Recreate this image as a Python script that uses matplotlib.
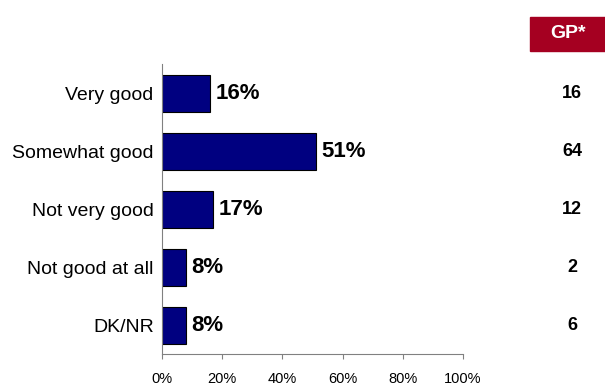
import matplotlib.pyplot as plt
import matplotlib.transforms as mtransforms
from matplotlib.patches import Rectangle

categories = ["Very good", "Somewhat good", "Not very good", "Not good at all", "DK/NR"]
values = [16, 51, 17, 8, 8]
gp_values = [16, 64, 12, 2, 6]
ticks = [0, 20, 40, 60, 80, 100]

plt.rcParams["font.family"] = ["Liberation Sans", "DejaVu Sans"]

fig = plt.figure(figsize=(6.05, 3.84), dpi=100)
ax = fig.add_axes([0.2678, 0.078, 0.4975, 0.755])

y = list(range(len(categories)))
ax.barh(y, values, height=0.64, color="#000080", edgecolor="black", linewidth=0.8)
for yi, v in zip(y, values):
    ax.text(v + 1.8, yi, f"{v}%", va="center", ha="left", fontsize=16, fontweight="bold")

ax.set_ylim(len(categories) - 0.5, -0.5)
ax.set_xlim(0, 100)
ax.set_yticks(y)
ax.set_yticklabels(categories, fontsize=14)
ax.tick_params(axis="y", length=0, pad=6)
ax.set_xticks(ticks)
ax.set_xticklabels([f"{t}%" for t in ticks], fontsize=10.5)
ax.tick_params(axis="x", direction="out", length=3.6, color="#808080", pad=9)
for s in ["top", "right"]:
    ax.spines[s].set_visible(False)
ax.spines["left"].set_color("#808080")
ax.spines["bottom"].set_color("#808080")

# GP column
fig.patches.append(Rectangle((530 / 605, 1 - 51 / 384), 75 / 605, 34 / 384,
                             transform=fig.transFigure, color="#A50021"))
fig.text(568 / 605, 1 - 34 / 384, "GP*", color="white", fontsize=14,
         fontweight="bold", ha="center", va="center")
trans = mtransforms.blended_transform_factory(fig.transFigure, ax.transData)
for yi, g in zip(y, gp_values):
    fig.text(572 / 605, yi, str(g), fontsize=13, fontweight="bold",
             ha="center", va="center", transform=trans)

plt.savefig("out.png")
